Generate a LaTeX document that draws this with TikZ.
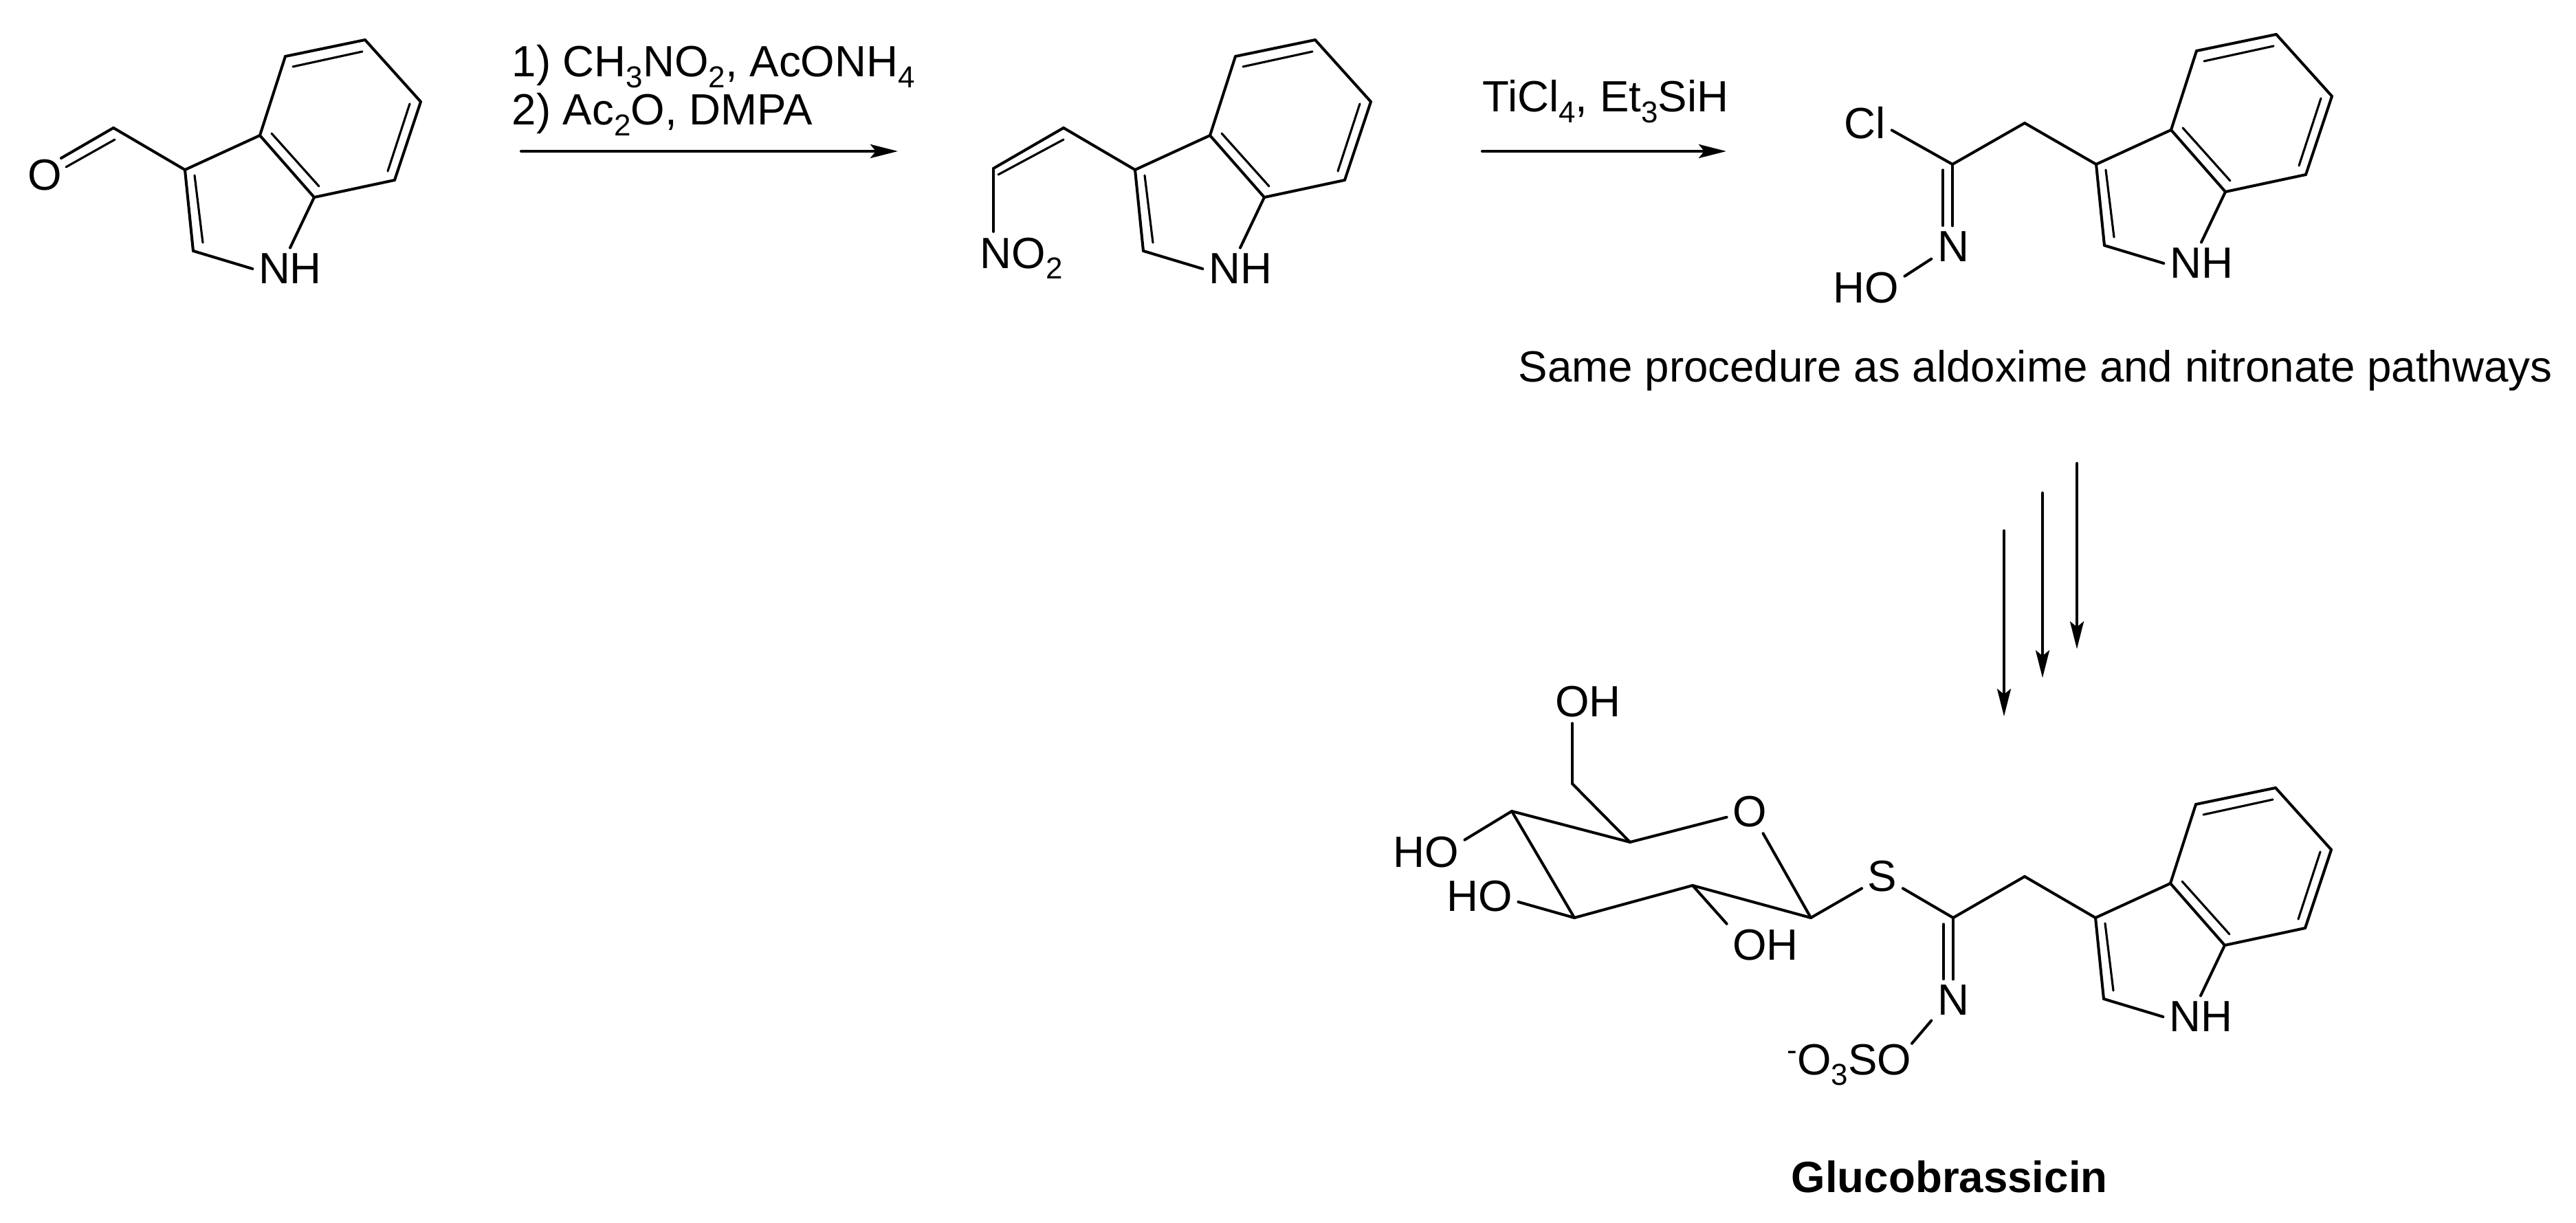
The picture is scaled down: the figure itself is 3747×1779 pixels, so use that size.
\documentclass[tikz,border=0pt]{standalone}
\usepackage{fontspec}
\setmainfont{Liberation Sans}
\usetikzlibrary{arrows.meta}
\newcommand{\dn}[1]{\raisebox{-0.24em}{\fontsize{12.5}{12.5}\selectfont #1}}
\begin{document}
\begin{tikzpicture}[x=0.01cm, y=-0.01cm, font=\fontsize{18.1}{20}\selectfont, line cap=round]
\tikzset{
  atom/.style={inner sep=0.08cm},
  txt/.style={inner sep=0pt, anchor=base west},
  bond/.style={line width=1.15pt},
  inner/.style={line width=0.9pt},
  rxn/.style={line width=1.15pt, -{Stealth[length=0.4cm, width=0.2cm, inset=0.08cm]}}
}
\useasboundingbox (0,0) rectangle (3747,1779);
% indole rings
\foreach \m/\dx/\dy in {A/0/0, B/1382/0, C/2780/-8, D/2779/1088} {
  \begin{scope}[shift={(\dx,\dy)}]
    \coordinate (\m1) at (415,82);
    \coordinate (\m2) at (531,58);
    \coordinate (\m3) at (612,148);
    \coordinate (\m4) at (574,262);
    \coordinate (\m5) at (457,287);
    \coordinate (\m6) at (378,197);
    \coordinate (\m7) at (269,247);
    \coordinate (\m8) at (281,365);
    \coordinate (\m i1) at (426,97);
    \coordinate (\m i2) at (527,75);
    \coordinate (\m i3) at (596,151);
    \coordinate (\m i4) at (564,249);
    \coordinate (\m i5) at (395,194);
    \coordinate (\m i6) at (464,271);
    \coordinate (\m i7) at (283,255);
    \coordinate (\m i8) at (295,353);
    \node[atom] (\m N) at (422,391) {NH};
    \draw[bond] (\m1) -- (\m2);
    \draw[bond] (\m2) -- (\m3);
    \draw[bond] (\m3) -- (\m4);
    \draw[bond] (\m4) -- (\m5);
    \draw[bond] (\m5) -- (\m6);
    \draw[bond] (\m6) -- (\m1);
    \draw[bond] (\m6) -- (\m7);
    \draw[bond] (\m7) -- (\m8);
    \draw[bond] (\m5) -- (\m N.north);
    \draw[bond] (\m8) -- (\m N.west);
    \draw[inner] (\m i1) -- (\m i2);
    \draw[inner] (\m i3) -- (\m i4);
    \draw[inner] (\m i5) -- (\m i6);
    \draw[inner] (\m i7) -- (\m i8);
  \end{scope}
}
% aldehyde
\coordinate (A9) at (165,186);
\coordinate (Ai9) at (167,203);
\coordinate (Ao1) at (89,230);
\coordinate (Ao2) at (96,243);
\node[atom] (AO) at (65,255) {O};
\draw[bond] (A7) -- (A9);
\draw[bond] (A9) -- (Ao1);
\draw[inner] (Ai9) -- (Ao2);
% first arrow
\node[txt] (R1a) at (744,112) {1) CH\dn{3}NO\dn{2}, AcONH\dn{4}};
\node[txt] (R1b) at (744,182) {2) Ac\dn{2}O, DMPA};
\coordinate (S1) at (758,220);
\coordinate (E1) at (1306,220);
\draw[rxn] (S1) -- (E1);
% nitrovinyl
\coordinate (B9) at (1547,186);
\coordinate (B10) at (1445,245);
\coordinate (Bi9) at (1547,203);
\coordinate (Bi10) at (1452,254);
\node[atom, anchor=base west] (BNO) at (1417,390) {NO\dn{2}};
\draw[bond] (B7) -- (B9);
\draw[bond] (B9) -- (B10);
\draw[inner] (Bi9) -- (Bi10);
\draw[bond] (B10) -- (B10 |- BNO.north);
% second arrow
\node[txt] (R2) at (2156,163) {TiCl\dn{4}, Et\dn{3}SiH};
\coordinate (S2) at (2156,220);
\coordinate (E2) at (2511,220);
\draw[rxn] (S2) -- (E2);
% chloro oxime
\coordinate (C9) at (2945,179);
\coordinate (C10) at (2840,239);
\coordinate (Ci10) at (2826,247);
\node[atom] (CCl) at (2713,179) {Cl};
\node[atom] (CNo) at (2841,359) {N};
\node[atom] (CHO) at (2714,419) {HO};
\draw[bond] (C7) -- (C9);
\draw[bond] (C9) -- (C10);
\draw[bond] (C10) -- (CCl.-15);
\draw[bond] (C10) -- (C10 |- CNo.north);
\draw[inner] (Ci10) -- (Ci10 |- CNo.north);
\draw[bond] (CNo.-151) -- (CHO.17);
\node[txt] (Note) at (2208,555) {Same procedure as aldoxime and nitronate pathways};
% three arrows
\coordinate (S3) at (3021,674);
\coordinate (E3) at (3021,944);
\coordinate (S4) at (2971,717);
\coordinate (E4) at (2971,986);
\coordinate (S5) at (2915,772);
\coordinate (E5) at (2915,1042);
\draw[rxn] (S3) -- (E3);
\draw[rxn] (S4) -- (E4);
\draw[rxn] (S5) -- (E5);
% sugar
\coordinate (G1) at (2634,1335);
\coordinate (G2) at (2462,1288);
\coordinate (G3) at (2290,1335);
\coordinate (G4) at (2199,1180);
\coordinate (G5) at (2371,1225);
\coordinate (G6) at (2287,1140);
\node[atom] (GO) at (2545,1181) {O};
\node[atom] (GOH6) at (2310,1021) {OH};
\node[atom] (GHO4) at (2074,1240) {HO};
\node[atom] (GHO3) at (2152,1304) {HO};
\node[atom] (GOH2) at (2568,1375) {OH};
\node[atom] (GS) at (2738,1275) {S};
\draw[bond] (G1) -- (G2);
\draw[bond] (G2) -- (G3);
\draw[bond] (G3) -- (G4);
\draw[bond] (G4) -- (G5);
\draw[bond] (G5) -- (GO.193);
\draw[bond] (GO.-58) -- (G1);
\draw[bond] (G5) -- (G6);
\draw[bond] (G6) -- (G6 |- GOH6.south);
\draw[bond] (G4) -- (GHO4.18);
\draw[bond] (G3) -- (GHO3.-8);
\draw[bond] (G2) -- (GOH2.151);
\draw[bond] (G1) -- (GS.210);
% thiohydroximate
\coordinate (D9) at (2945,1275);
\coordinate (D10) at (2841,1335);
\coordinate (Di10) at (2827,1344);
\node[atom] (DNo) at (2841,1455) {N};
\node[txt] (DSO) at (2599,1563) {\raisebox{0.32em}{\fontsize{12.5}{12.5}\selectfont -}O\dn{3}SO};
\draw[bond] (GS.-30) -- (D10);
\draw[bond] (D10) -- (D9);
\draw[bond] (D9) -- (D7);
\draw[bond] (D10) -- (D10 |- DNo.north);
\draw[inner] (Di10) -- (Di10 |- DNo.north);
\draw[bond] (DNo.-137) -- (DSO.north east);
\node[txt, font=\fontsize{18.1}{20}\selectfont\bfseries] (Title) at (2605,1734) {Glucobrassicin};
\end{tikzpicture}
\end{document}
